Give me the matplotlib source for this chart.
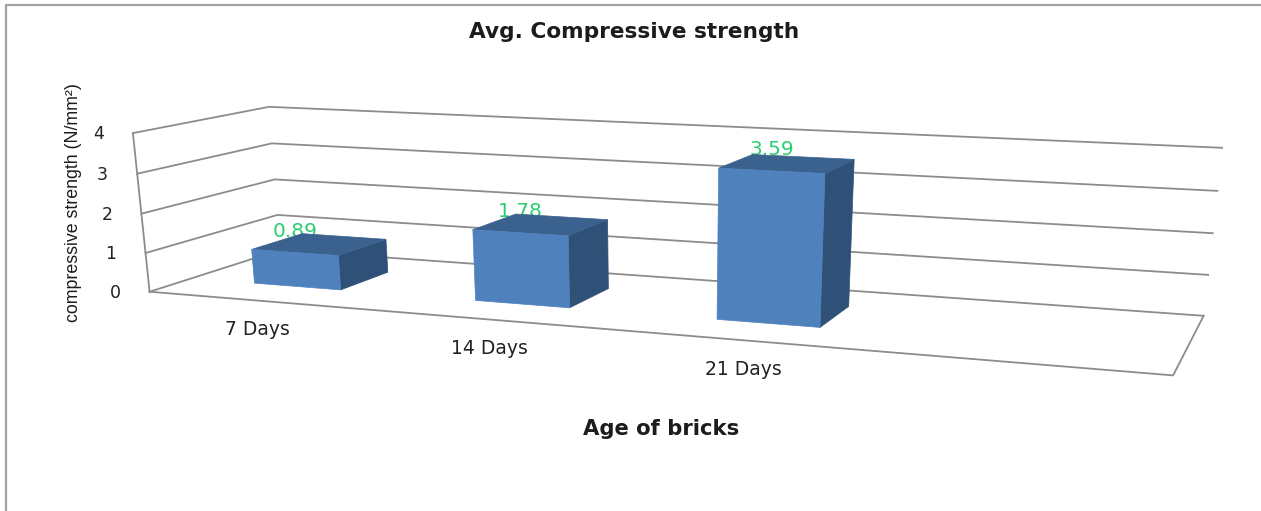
import numpy as np
import matplotlib
matplotlib.use("Agg")
import matplotlib.pyplot as plt

# Chart values
categories = ["7 Days", "14 Days", "21 Days"]
strength = [0.89, 1.78, 3.59]
value_ticks = [0, 1, 2, 3, 4]
n_slots = 4  # Excel left one empty category slot on the right

title = "Avg. Compressive strength"
x_title = "Age of bricks"
y_title = "compressive strength (N/mm²)"

# Reference points of the 3D box: (slot, depth, value) -> canvas pixel
box_world = [(0, 0, 0), (0, 0, 4), (0, 0, 2),
             (0, 1, 1), (0, 1, 2), (0, 1, 3), (0, 1, 4),
             (4, 1, 0), (4, 1, 1), (4, 1, 2), (4, 1, 3), (4, 1, 4),
             (4, 0, 0)]
box_pixel = [(149, 292), (132, 133), (143, 213),
             (277, 215), (275, 180), (272, 143), (269, 107),
             (1203, 315), (1209, 275), (1213, 233), (1217, 191), (1222, 148),
             (1173, 376)]


# Fit a projective camera through the reference points
def fit_camera(world, pixel):
    rows = []
    rhs = []
    for (x, y, z), (u, v) in zip(world, pixel):
        rows.append([x, y, z, 1, 0, 0, 0, 0, -u * x, -u * y, -u * z])
        rows.append([0, 0, 0, 0, x, y, z, 1, -v * x, -v * y, -v * z])
        rhs += [u, v]
    p = np.linalg.lstsq(np.array(rows, float), np.array(rhs, float), rcond=None)[0]
    return np.append(p, 1.0).reshape(3, 4)


camera = fit_camera(box_world, box_pixel)


def project(x, y, z):
    u, v, w = camera @ np.array([x, y, z, 1.0])
    return u / w, v / w


def polyline(ax, pts, **kw):
    xs, ys = zip(*[project(*p) for p in pts])
    ax.plot(xs, ys, **kw)


def face(ax, pts, color, zorder):
    xs, ys = zip(*[project(*p) for p in pts])
    ax.fill(xs, ys, color=color, lw=0.5, zorder=zorder)


fig = plt.figure(figsize=(12.61, 5.11), dpi=100)
ax = fig.add_axes([0, 0, 1, 1])
ax.set_xlim(0, 1261)
ax.set_ylim(511, 0)
ax.axis("off")

# Chart frame, only the top and left sides are visible
ax.plot([5.5, 5.5, 1261], [511, 5.5, 5.5], color="#a3a3a3", lw=1.6, zorder=1)

# Walls and floor
grid_style = dict(color="#8c8c8c", lw=1.3, zorder=2)
for v in value_ticks:
    polyline(ax, [(0, 0, v), (0, 1, v), (n_slots, 1, v)], **grid_style)
    px, py = project(0, 0, v)
    ax.text(px - 34.5, py + 1, str(v), ha="center", va="center", fontsize=12.5, color="#222222")
polyline(ax, [(0, 0, 0), (0, 0, value_ticks[-1])], **grid_style)
polyline(ax, [(0, 0, 0), (n_slots, 0, 0), (n_slots, 1, 0)], **grid_style)

# Bars: Excel gap width and gap depth of 150%
half_w = 0.2
y0, y1 = 0.3, 0.7
for i, (cat, val) in enumerate(zip(categories, strength)):
    c = i + 0.5
    x0, x1 = c - half_w, c + half_w
    z = 5 + i
    # data label sits under the top face, so it is partly covered
    lx, ly = project(c, y0, val)
    ax.text(lx, ly - 21, f"{val:.2f}", ha="center", va="center", fontsize=14.5,
            color="#2ecc71", zorder=z)
    face(ax, [(x1, y0, 0), (x1, y1, 0), (x1, y1, val), (x1, y0, val)], "#2f5177", z + 0.1)
    face(ax, [(x0, y0, val), (x1, y0, val), (x1, y1, val), (x0, y1, val)], "#3b628f", z + 0.1)
    face(ax, [(x0, y0, 0), (x1, y0, 0), (x1, y0, val), (x0, y0, val)], "#4f81bd", z + 0.2)
    # category label below the front edge of the floor
    tx, ty = project(c, 0, 0)
    ax.text(tx, ty + 29, cat, ha="center", va="center", fontsize=13.5, color="#222222", zorder=12)

ax.text(634, 32, title, ha="center", va="center", fontsize=15.6, fontweight="bold",
        color="#1c1c1c", family="DejaVu Sans")
ax.text(661, 429, x_title, ha="center", va="center", fontsize=15.2, fontweight="bold",
        color="#1c1c1c", family="DejaVu Sans")
ax.text(73, 203, y_title, ha="center", va="center", rotation=90, fontsize=12.8,
        color="#1c1c1c", family=["Liberation Sans Narrow", "Liberation Sans"])

fig.savefig("out.png", dpi=100, facecolor="white")
